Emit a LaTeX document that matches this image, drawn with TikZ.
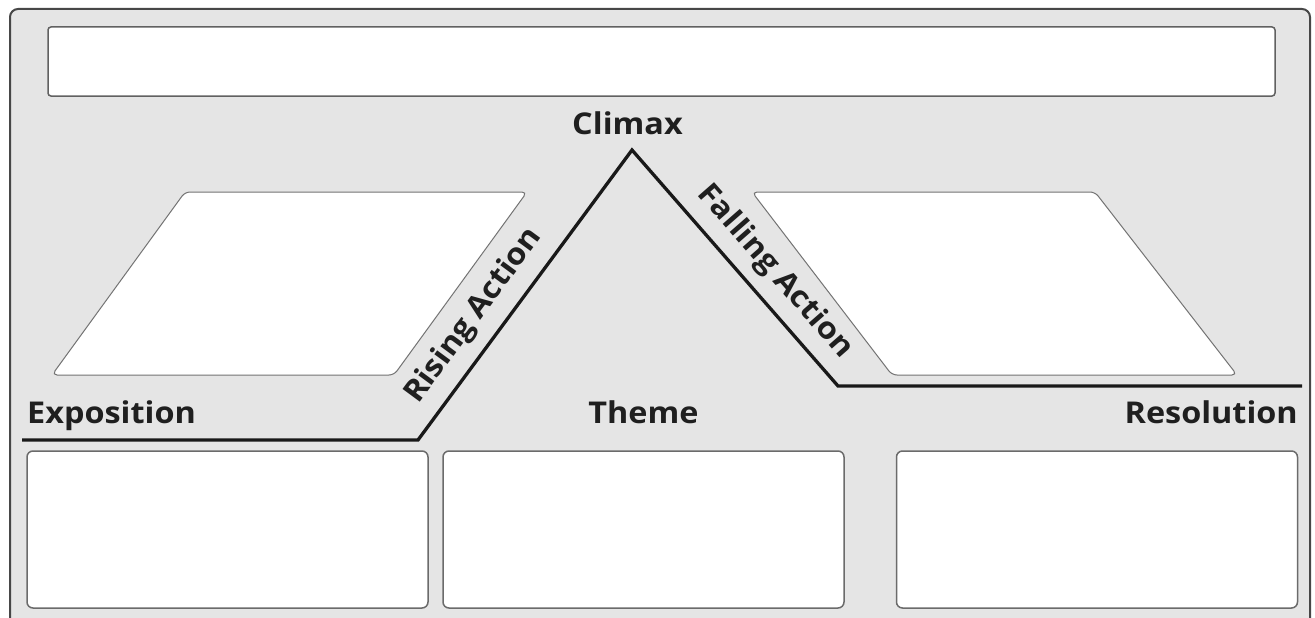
\documentclass[tikz,border=0pt]{standalone}
\usepackage{fontspec}
\setmainfont{Open Sans}[FakeStretch=1.08]
\begin{document}
\begin{tikzpicture}[x=1pt,y=-1pt,
  frame/.style={draw=black!72,line width=2pt,fill=black!10,rounded corners=8pt},
  bar/.style={draw=black!62,line width=1.5pt,fill=white,rounded corners=3pt,inner sep=0pt},
  para/.style={draw=black!55,line width=1pt,fill=white,rounded corners=5pt},
  cell/.style={draw=black!58,line width=1.5pt,fill=white,rounded corners=6pt,inner sep=0pt,minimum width=401pt,minimum height=157pt},
  plotline/.style={draw=black!90,line width=3.3pt,line join=miter},
  lbl/.style={font=\fontsize{30}{34}\selectfont\bfseries,text=black!88,inner sep=0pt}]
\useasboundingbox (0,0) rectangle (1315,618);
\draw[frame] (10,9) rectangle (1310,640);
\node[bar,minimum width=1227pt,minimum height=69pt] (title) at (661.5,61.5) {};
% parallelograms
\draw[para] (185,192) -- (527,192) -- (394,375) -- (52,375) -- cycle;
\draw[para] (752,192) -- (1095,192) -- (1237,375) -- (892,375) -- cycle;
% plot line
\coordinate (exL) at (22,440);
\coordinate (rb) at (418,440);
\coordinate (peak) at (632,150);
\coordinate (fb) at (838,386);
\coordinate (resR) at (1302,386);
\draw[plotline] (exL) -- (rb) -- (peak) -- (fb) -- (resR);
% labels
\node[lbl,anchor=base] (climax) at (627.5,134) {Climax};
\node[lbl,anchor=base west] (expo) at (27,423) {Exposition};
\node[lbl,anchor=base] (theme) at (643.5,423) {Theme};
\node[lbl,anchor=base east] (reso) at (1298,423) {Resolution};
\node[lbl,rotate=53.6] (rising) at (474,316) {Rising Action};
\node[lbl,rotate=-48.8] (falling) at (775,272) {Falling Action};
% bottom cells
\node[cell] (c1) at (227.5,529.5) {};
\node[cell] (c2) at (643.5,529.5) {};
\node[cell] (c3) at (1097,529.5) {};
\end{tikzpicture}
\end{document}
